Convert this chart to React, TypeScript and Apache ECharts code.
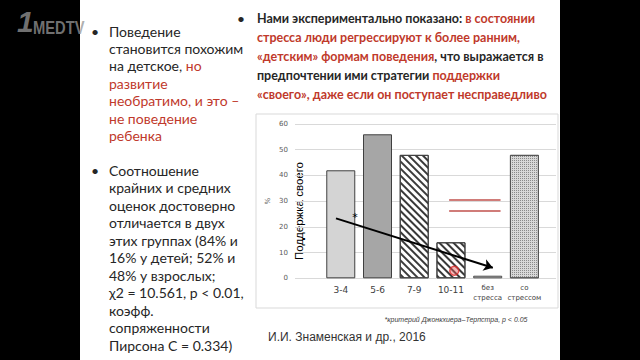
import React, { useEffect, useRef } from "react";
import * as echarts from "echarts";

const categories = ["3-4", "5-6", "7-9", "10-11", "без\nстресса", "со\nстрессом"];
const supportValues = [42, 56, 48, 14, 1, 48];
const yMin = 0;
const yMax = 60;
const yStep = 10;
// annotation positions in (category index, %) units
const trendArrow = [
  [-0.13, 23.3],
  [4.14, 4.1],
];
const asteriskPoint = [0.39, 23.8];
const equalSignY = [30.7, 26.3];
const equalSignX = [2.95, 4.35];
const pointerMark = [3.09, 2.95];

const RED = "#c0392b";
const DARK = "#262626";

const leftLines1 = [
  [["b", "Поведение"]],
  [["b", "становится похожим"]],
  [["b", "на детское, "], ["r", "но"]],
  [["r", "развитие"]],
  [["r", "необратимо, и это –"]],
  [["r", "не поведение"]],
  [["r", "ребенка"]],
];
const leftLines2 = [
  "Соотношение",
  "крайних и средних",
  "оценок достоверно",
  "отличается в двух",
  "этих группах (84% и",
  "16% у детей; 52% и",
  "48% у взрослых;",
  "χ2 = 10.561, p < 0.01,",
  "коэфф.",
  "сопряженности",
  "Пирсона С = 0.334)",
];
const rightLines = [
  [["b", "Нами экспериментально показано: "], ["r", "в состоянии"]],
  [["r", "стресса люди регрессируют к более ранним,"]],
  [["r", "«детским» формам поведения"], ["b", ", что выражается в"]],
  [["b", "предпочтении ими стратегии "], ["r", "поддержки"]],
  [["r", "«своего», даже если он поступает несправедливо"]],
];

const barStyles: any[] = [
  { color: "#d4d4d4", borderColor: "#404040", borderWidth: 1 },
  { color: "#a6a6a6", borderColor: "#404040", borderWidth: 1 },
  {
    color: "#ffffff",
    borderColor: "#404040",
    borderWidth: 1,
    decal: {
      symbol: "rect",
      symbolSize: 1,
      color: "#3a3a3a",
      backgroundColor: "#ffffff",
      dashArrayX: [1, 0],
      dashArrayY: [1.3, 2.2],
      rotation: Math.PI / 4,
    },
  },
  {
    color: "#ffffff",
    borderColor: "#404040",
    borderWidth: 1,
    decal: {
      symbol: "rect",
      symbolSize: 1,
      color: "#3a3a3a",
      backgroundColor: "#ffffff",
      dashArrayX: [1, 0],
      dashArrayY: [1.3, 2.8],
      rotation: Math.PI / 4,
    },
  },
  { color: "#ffffff", borderColor: "#404040", borderWidth: 1 },
  {
    color: "#d8d8d8",
    borderColor: "#555555",
    borderWidth: 1,
    decal: {
      symbol: "rect",
      symbolSize: 1,
      color: "#8a8a8a",
      backgroundColor: "#e6e6e6",
      dashArrayX: [1, 1],
      dashArrayY: [1, 1],
      rotation: 0,
    },
  },
];

function richLine(parts: string[][]) {
  return parts.map(([k, t]) => `{${k}|${t}}`).join("");
}

export default function App() {
  const ref = useRef<HTMLDivElement>(null);
  useEffect(() => {
    if (!ref.current) return;
    const chart = echarts.init(ref.current, undefined, { renderer: "svg" });

    const graphics: any[] = [];
    // logo
    graphics.push({
      type: "text",
      x: 17,
      y: 36,
      style: {
        text: "1",
        font: "italic bold 30px 'Liberation Sans'",
        fill: "rgba(150,150,150,0.75)",
        textVerticalAlign: "bottom",
      },
    });
    graphics.push({
      type: "text",
      x: 33,
      y: 36,
      scaleX: 0.82,
      style: {
        text: "MEDTV",
        font: "bold 18px 'Liberation Sans'",
        fill: "rgba(150,150,150,0.75)",
        textVerticalAlign: "bottom",
      },
    });
    // chart frame
    graphics.push({
      type: "rect",
      shape: { x: 256, y: 114, width: 302, height: 194 },
      style: { fill: "none", stroke: "#d9d9d9", lineWidth: 1 },
      z: -1,
    });
    // bullets
    [31, 170].forEach((y) =>
      graphics.push({
        type: "text",
        x: 95,
        y,
        style: { text: "•", font: "14px Lato", fill: DARK, textVerticalAlign: "middle", textAlign: "center" },
      })
    );
    graphics.push({
      type: "text",
      x: 241,
      y: 18,
      style: { text: "•", font: "bold 12px Lato", fill: DARK, textVerticalAlign: "middle", textAlign: "center" },
    });
    leftLines1.forEach((parts, i) =>
      graphics.push({
        type: "text",
        x: 109,
        y: 31 + i * 17.4,
        style: {
          text: richLine(parts),
          textVerticalAlign: "middle",
          rich: {
            b: { fontFamily: "Lato", fontSize: 14, fill: DARK, color: DARK },
            r: { fontFamily: "Lato", fontSize: 14, fill: RED, color: RED },
          },
        },
      })
    );
    leftLines2.forEach((t, i) =>
      graphics.push({
        type: "text",
        x: 109,
        y: 170 + i * 17.5,
        style: { text: t, font: "14px Lato", fill: DARK, textVerticalAlign: "middle" },
      })
    );
    rightLines.forEach((parts, i) =>
      graphics.push({
        type: "text",
        x: 257,
        y: 18 + i * 19.1,
        style: {
          text: richLine(parts),
          textVerticalAlign: "middle",
          rich: {
            b: { fontFamily: "Lato", fontWeight: "bold", fontSize: 12.5, fill: DARK, color: DARK },
            r: { fontFamily: "Lato", fontWeight: "bold", fontSize: 12.5, fill: RED, color: RED },
          },
        },
      })
    );
    // y axis big title
    graphics.push({
      type: "text",
      x: 299,
      y: 211,
      rotation: Math.PI / 2,
      style: {
        text: "Поддержка своего",
        font: "11.5px 'Liberation Sans'",
        fill: "#000",
        textAlign: "center",
        textVerticalAlign: "middle",
      },
    });
    // footnote and citation
    graphics.push({
      type: "text",
      x: 456,
      y: 319,
      style: {
        text: "*критерий Джонкхиера–Терпстра, p < 0.05",
        font: "italic 7px 'Liberation Sans'",
        fill: "#404040",
        textAlign: "center",
        textVerticalAlign: "middle",
      },
    });
    graphics.push({
      type: "text",
      x: 268,
      y: 337,
      style: {
        text: "И.И. Знаменская и др., 2016",
        font: "12px 'Liberation Sans'",
        fill: "#333",
        textVerticalAlign: "middle",
      },
    });

    chart.setOption({
      animation: false,
      backgroundColor: "transparent",
      graphic: graphics,
      grid: [
        { left: 295, top: 124, width: 261, height: 154.3 },
        { left: 322.4, top: 124, width: 220.4, height: 154.3 },
      ],
      xAxis: [
        { gridIndex: 0, type: "value", min: 0, max: 1, show: false },
        {
          gridIndex: 1,
          type: "category",
          data: categories,
          axisLine: { show: false },
          axisTick: { show: false },
          axisLabel: {
            margin: 5,
            interval: 0,
            color: "#404040",
            fontFamily: "DejaVu Sans",
            formatter: (v: string) =>
              v.includes("\n")
                ? v
                    .split("\n")
                    .map((s) => `{s|${s}}`)
                    .join("\n")
                : `{n|${v}}`,
            rich: {
              s: { fontSize: 7, lineHeight: 9.5, color: "#404040", fontFamily: "DejaVu Sans" },
              n: { fontSize: 9, color: "#404040", fontFamily: "DejaVu Sans", padding: [2, 0, 0, 0] },
            },
          },
        },
        { gridIndex: 1, type: "value", min: -0.5, max: 5.5, show: false },
      ],
      yAxis: [
        {
          gridIndex: 0,
          type: "value",
          min: yMin,
          max: yMax,
          interval: yStep,
          name: "%",
          nameLocation: "middle",
          nameGap: 24,
          nameRotate: 90,
          nameTextStyle: { fontSize: 7, color: "#595959", fontFamily: "DejaVu Sans" },
          axisLine: { show: false },
          axisTick: { show: false },
          axisLabel: { fontSize: 7, color: "#595959", margin: 7, fontFamily: "DejaVu Sans" },
          splitLine: { lineStyle: { color: "#d9d9d9", width: 1 } },
        },
        { gridIndex: 1, type: "value", min: yMin, max: yMax, interval: yStep, show: false },
      ],
      series: [
        {
          type: "bar",
          xAxisIndex: 1,
          yAxisIndex: 1,
          barWidth: 29,
          data: supportValues.map((v, i) => ({ value: v, itemStyle: barStyles[i] })),
          z: 2,
        },
        {
          type: "scatter",
          xAxisIndex: 2,
          yAxisIndex: 1,
          symbol: "circle",
          symbolSize: 9,
          itemStyle: { color: "rgba(235,90,90,0.55)", borderColor: "#e02a2a", borderWidth: 1.5 },
          data: [pointerMark],
          z: 5,
          markLine: {
            silent: true,
            symbol: ["none", "arrow"],
            symbolSize: 9,
            label: { show: false },
            data: [
              [
                { coord: trendArrow[0], lineStyle: { color: "#000", width: 2, type: "solid" } },
                { coord: trendArrow[1] },
              ],
              ...equalSignY.map((y) => [
                {
                  coord: [equalSignX[0], y],
                  symbol: "none",
                  lineStyle: { color: "#c0504d", width: 1.5, type: "solid" },
                },
                { coord: [equalSignX[1], y], symbol: "none" },
              ]),
            ],
          },
          markPoint: {
            silent: true,
            data: [
              {
                coord: asteriskPoint,
                symbol: "circle",
                symbolSize: 1,
                itemStyle: { color: "transparent" },
                label: { show: true, formatter: "*", fontSize: 11, color: "#000", fontFamily: "DejaVu Sans" },
              },
            ],
          },
        },
      ],
    });
    return () => chart.dispose();
  }, []);
  return (
    <div
      style={{
        position: "fixed",
        left: 0,
        top: 0,
        width: 640,
        height: 360,
        background: "linear-gradient(to right, #000 80px, #fff 80px, #fff 560px, #000 560px)",
      }}
    >
      <div ref={ref} style={{ width: 640, height: 360 }} />
    </div>
  );
}
